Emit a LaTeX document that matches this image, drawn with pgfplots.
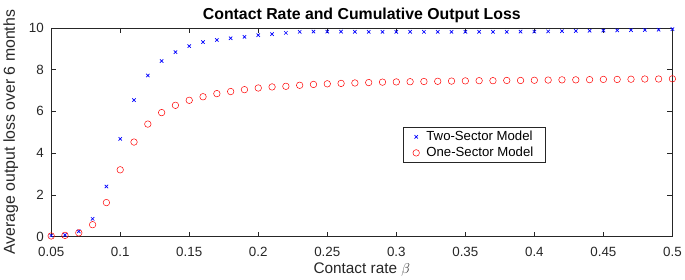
\documentclass[border=0pt]{standalone}
\usepackage{pgfplots}
\pgfplotsset{compat=1.18}
\usepackage{fontspec}
\setmainfont{Liberation Sans}
\definecolor{axgray}{gray}{0.15}
\begin{document}
\begin{tikzpicture}
\begin{axis}[
  scale only axis,
  width=625bp, height=210bp,
  xmin=0.05, xmax=0.5, ymin=0, ymax=10,
  xtick={0.05,0.1,...,0.5},
  xticklabels={0.05,0.1,0.15,0.2,0.25,0.3,0.35,0.4,0.45,0.5},
  ytick={0,2,...,10},
  tick align=inside,
  major tick length=5bp,
  axis line style={axgray},
  tick style={axgray, line width=0.5pt},
  every tick label/.append style={font=\fontsize{13.5}{15}\selectfont, text=axgray},
  xticklabel style={yshift=-7bp},
  yticklabel style={xshift=-4bp},
  /pgf/number format/assume math mode=true,
  title={\bfseries Contact Rate and Cumulative Output Loss},
  title style={font=\fontsize{16}{18}\selectfont\bfseries, inner ysep=8bp, yshift=-9bp},
  xlabel={Contact rate $\beta$},
  ylabel={Average output loss over 6 months},
  label style={font=\fontsize{15.5}{17}\selectfont, text=axgray},
  xlabel style={yshift=1bp},
  ylabel style={font=\fontsize{16}{18}\selectfont, at={(ticklabel cs:0.5,4bp)}},
  legend style={at={(0.566,0.524)}, anchor=north west, draw=axgray, font=\fontsize{13.3}{15}\selectfont, row sep=1bp, inner xsep=10bp, inner ysep=2bp, /tikz/every odd column/.append style={column sep=5bp}},
  legend cell align=left,
  clip=false,
]
\addplot[only marks, mark=x, mark size=2.4pt, blue, mark options={line width=0.7pt}] coordinates {
(0.05,0.05)(0.06,0.08)(0.07,0.25)(0.08,0.85)(0.09,2.40)(0.10,4.68)
(0.11,6.54)(0.12,7.72)(0.13,8.41)(0.14,8.84)(0.15,9.13)(0.16,9.32)
(0.17,9.42)(0.18,9.50)(0.19,9.57)(0.20,9.65)(0.21,9.70)(0.22,9.76)
(0.23,9.81)(0.24,9.82)(0.25,9.82)(0.26,9.82)(0.27,9.81)(0.28,9.81)
(0.29,9.81)(0.30,9.81)(0.31,9.81)(0.32,9.81)(0.33,9.81)(0.34,9.81)
(0.35,9.81)(0.36,9.81)(0.37,9.81)(0.38,9.81)(0.39,9.82)(0.40,9.82)
(0.41,9.83)(0.42,9.84)(0.43,9.85)(0.44,9.86)(0.45,9.87)(0.46,9.88)
(0.47,9.89)(0.48,9.90)(0.49,9.91)(0.50,9.94)
};
\addlegendentry{Two-Sector Model}
\addplot[only marks, mark=o, mark size=3.3pt, red, mark options={line width=0.5pt}] coordinates {
(0.05,0.03)(0.06,0.06)(0.07,0.18)(0.08,0.57)(0.09,1.63)(0.10,3.20)
(0.11,4.53)(0.12,5.39)(0.13,5.94)(0.14,6.29)(0.15,6.53)(0.16,6.70)
(0.17,6.85)(0.18,6.95)(0.19,7.04)(0.20,7.12)(0.21,7.17)(0.22,7.20)
(0.23,7.25)(0.24,7.29)(0.25,7.32)(0.26,7.34)(0.27,7.36)(0.28,7.38)
(0.29,7.40)(0.30,7.41)(0.31,7.42)(0.32,7.43)(0.33,7.44)(0.34,7.45)
(0.35,7.46)(0.36,7.47)(0.37,7.47)(0.38,7.48)(0.39,7.48)(0.40,7.49)
(0.41,7.50)(0.42,7.51)(0.43,7.51)(0.44,7.52)(0.45,7.53)(0.46,7.53)
(0.47,7.54)(0.48,7.55)(0.49,7.55)(0.50,7.56)
};
\addlegendentry{One-Sector Model}
\end{axis}
\end{tikzpicture}
\end{document}
